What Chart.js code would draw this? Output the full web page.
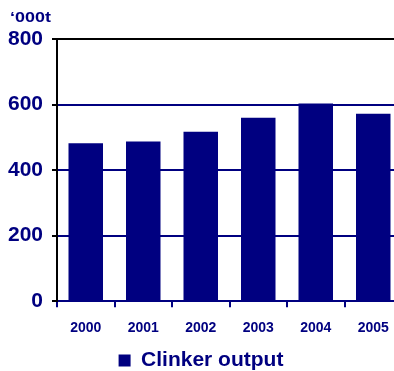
<!DOCTYPE html>
<html>
<head>
<meta charset="utf-8">
<script src="https://cdn.jsdelivr.net/npm/chart.js@4"></script>
<style>
  html, body { margin: 0; padding: 0; background: #fff; overflow: hidden; }
  #wrap { width: 402px; height: 371px; }
</style>
</head>
<body>
<div id="wrap"><canvas id="c" width="402" height="371"></canvas></div>
<script>
const years = ['2000', '2001', '2002', '2003', '2004', '2005'];
const clinkerOutput = [482, 487, 517, 560, 603, 572];
const yTicks = [0, 200, 400, 600, 800];
const unitLabel = '\u2018000t';

const NAVY = '#000080';
const FONT = '"Liberation Sans", Arial, sans-serif';

// unit label above the y axis (the original is a bit stretched sideways)
const unitPlugin = {
  id: 'unitLabel',
  afterDraw(chart) {
    const ctx = chart.ctx;
    ctx.save();
    ctx.fillStyle = NAVY;
    ctx.font = 'bold 14px ' + FONT;
    ctx.textBaseline = 'middle';
    ctx.textAlign = 'left';
    ctx.translate(10, 18);
    ctx.scale(1.28, 1);
    ctx.fillText(unitLabel, 0, 0);
    ctx.restore();
  }
};

new Chart(document.getElementById('c'), {
  type: 'bar',
  data: {
    labels: years,
    datasets: [{
      label: 'Clinker output',
      data: clinkerOutput,
      backgroundColor: NAVY,
      borderWidth: 0,
      barPercentage: 0.6,
      categoryPercentage: 1
    }]
  },
  options: {
    responsive: false,
    animation: false,
    layout: { padding: { top: 39, left: 0, right: 0, bottom: -10 } },
    plugins: {
      tooltip: { enabled: false },
      legend: {
        position: 'bottom',
        labels: {
          color: NAVY,
          font: { family: FONT, size: 21, weight: 'bold' },
          boxWidth: 12,
          boxHeight: 12,
          padding: 0
        }
      }
    },
    scales: {
      x: {
        offset: true,
        grid: {
          offset: true,
          drawOnChartArea: false,
          tickColor: NAVY,
          tickLength: 6,
          lineWidth: 2
        },
        border: { color: NAVY, width: 2 },
        ticks: {
          color: NAVY,
          padding: 13,
          font: { family: FONT, size: 14, weight: 'bold' }
        }
      },
      y: {
        min: 0,
        max: 800,
        afterBuildTicks: s => { s.ticks = yTicks.map(v => ({ value: v })); },
        afterFit: s => { s.width = 57; },
        grid: {
          color: c => (c.tick && c.tick.value === 800 ? '#000' : NAVY),
          lineWidth: 2,
          tickColor: '#000',
          tickLength: 5
        },
        border: { color: '#000', width: 2 },
        ticks: {
          color: NAVY,
          padding: 9,
          font: { family: FONT, size: 21, weight: 'bold' }
        }
      }
    }
  },
  plugins: [unitPlugin]
});
</script>
</body>
</html>
